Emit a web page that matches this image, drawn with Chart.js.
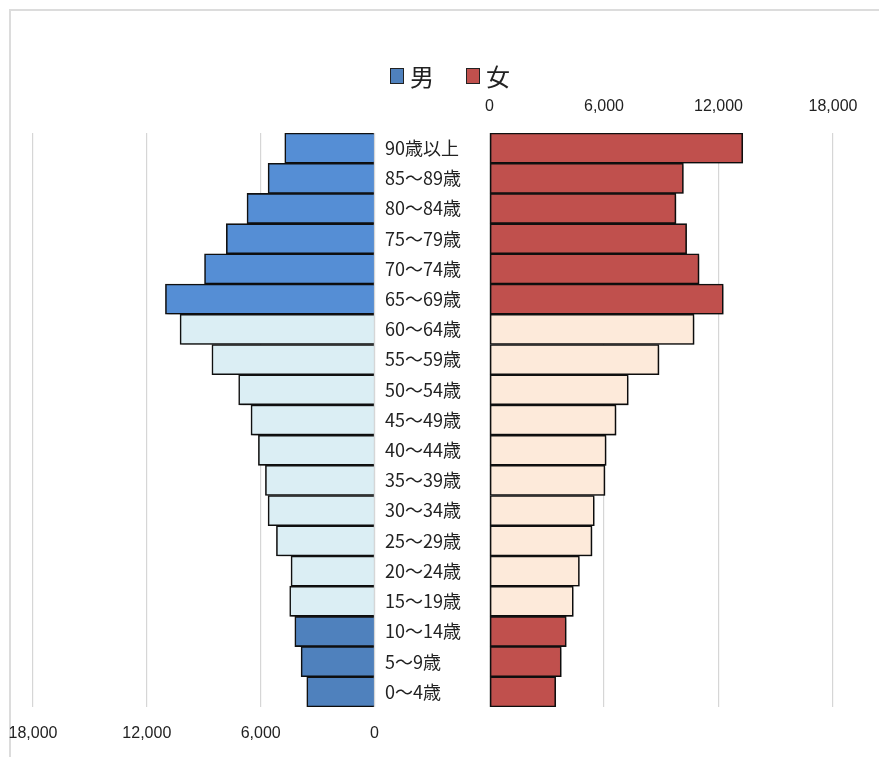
<!DOCTYPE html>
<html>
<head>
<meta charset="utf-8">
<script src="https://cdn.jsdelivr.net/npm/chart.js@4/dist/chart.umd.min.js"></script>
<style>
  html, body { margin: 0; padding: 0; background: #fff; }
  body { width: 879px; height: 757px; position: relative; overflow: hidden; }
  #frame { position: absolute; left: 9px; top: 9px; width: 900px; height: 800px;
           border-top: 2px solid #dcdcdc; border-left: 2px solid #dcdcdc; }
  #left { position: absolute; left: 0; top: 0; width: 390px; height: 757px; }
  #right { position: absolute; left: 380px; top: 0; width: 499px; height: 757px; }
  #legend { position: absolute; top: 58px; left: 390px; display: flex; align-items: center;
            font-family: "Noto Sans CJK JP", sans-serif; font-size: 24px; color: #222; }
  #legend .sw { display: inline-block; width: 12px; height: 14px; border: 1px solid #222; margin-right: 6px; }
  #legend .item { display: flex; align-items: center; margin-right: 32px; }
</style>
</head>
<body>
<div id="frame"></div>
<div id="left"><canvas id="cl"></canvas></div>
<div id="right"><canvas id="cr"></canvas></div>
<div id="legend">
  <span class="item"><span class="sw" style="background:#4F81BD"></span>男</span>
  <span class="item"><span class="sw" style="background:#C0504D"></span>女</span>
</div>
<script>
const categories = ["90歳以上","85～89歳","80～84歳","75～79歳","70～74歳","65～69歳","60～64歳","55～59歳","50～54歳","45～49歳","40～44歳","35～39歳","30～34歳","25～29歳","20～24歳","15～19歳","10～14歳","5～9歳","0～4歳"];
const maleValues   = [4730, 5610, 6720, 7810, 8960, 11020, 10250, 8570, 7160, 6510, 6120, 5750, 5610, 5170, 4400, 4470, 4200, 3870, 3570];
const femaleValues = [13270, 10160, 9770, 10330, 10980, 12250, 10720, 8880, 7270, 6630, 6110, 6050, 5490, 5370, 4710, 4390, 4020, 3760, 3470];
const axisTicks = [0, 6000, 12000, 18000];
const ageGroup = ["old","old","old","old","old","old","work","work","work","work","work","work","work","work","work","work","young","young","young"];

const maleColors = {old: "#558ED5", work: "#DBEEF4", young: "#4F81BD"};
const femaleColors = {old: "#C0504D", work: "#FDEADA", young: "#C0504D"};

const tickFont = { family: "'Liberation Sans Narrow', 'Liberation Sans', Arial, sans-serif", size: 16 };
const gridColor = "#d6d6d6";

const shadowPlugin = {
  id: "barShadow",
  beforeDatasetsDraw(chart) {
    const ctx = chart.ctx;
    ctx.save();
    ctx.shadowColor = "rgba(0,0,0,0.35)";
    ctx.shadowBlur = 3;
    ctx.shadowOffsetX = 2;
    ctx.shadowOffsetY = 2;
  },
  afterDatasetsDraw(chart) { chart.ctx.restore(); }
};

function fmt(v) { return Number(v).toLocaleString("en-US"); }

new Chart(document.getElementById("cl"), {
  type: "bar",
  data: {
    labels: categories,
    datasets: [{
      label: "男",
      data: maleValues,
      backgroundColor: ageGroup.map(g => maleColors[g]),
      borderColor: "#111",
      borderWidth: 1.6,
      barPercentage: 1,
      categoryPercentage: 1
    }]
  },
  options: {
    indexAxis: "y",
    responsive: true,
    maintainAspectRatio: false,
    animation: false,
    layout: { padding: { left: 33, right: 15.5, top: 133, bottom: 0 } },
    plugins: { legend: { display: false }, tooltip: { enabled: false } },
    scales: {
      x: {
        type: "linear",
        position: "bottom",
        reverse: true,
        min: 0, max: 18000,
        afterBuildTicks: s => { s.ticks = axisTicks.map(v => ({ value: v })); },
        afterFit: s => { s.height = 50; },
        grid: { color: gridColor, lineWidth: 1.2, drawTicks: false },
        border: { display: false },
        ticks: { font: tickFont, color: "#222", padding: 17, callback: v => fmt(v), maxRotation: 0 }
      },
      y: { display: false }
    }
  },
  plugins: [shadowPlugin]
});

new Chart(document.getElementById("cr"), {
  type: "bar",
  data: {
    labels: categories,
    datasets: [{
      label: "女",
      data: femaleValues,
      backgroundColor: ageGroup.map(g => femaleColors[g]),
      borderColor: "#111",
      borderWidth: 1.6,
      borderSkipped: false,
      barPercentage: 1,
      categoryPercentage: 1
    }]
  },
  options: {
    indexAxis: "y",
    responsive: true,
    maintainAspectRatio: false,
    animation: false,
    layout: { padding: { left: 5, right: 46, top: 93, bottom: 50 } },
    plugins: { legend: { display: false }, tooltip: { enabled: false } },
    scales: {
      x: {
        type: "linear",
        position: "top",
        min: 0, max: 18000,
        afterBuildTicks: s => { s.ticks = axisTicks.map(v => ({ value: v })); },
        afterFit: s => { s.height = 40; },
        grid: { color: gridColor, lineWidth: 1.2, drawTicks: false },
        border: { display: false },
        ticks: { font: tickFont, color: "#222", padding: 17, callback: v => fmt(v), maxRotation: 0 }
      },
      y: {
        position: "left",
        afterFit: s => { s.width = 104.5; },
        grid: { display: false, drawTicks: false },
        border: { display: false },
        ticks: { font: { family: "'Noto Sans CJK JP', sans-serif", size: 18 }, color: "#222", crossAlign: "far", padding: 0 }
      }
    }
  },
  plugins: [shadowPlugin]
});
</script>
</body>
</html>
